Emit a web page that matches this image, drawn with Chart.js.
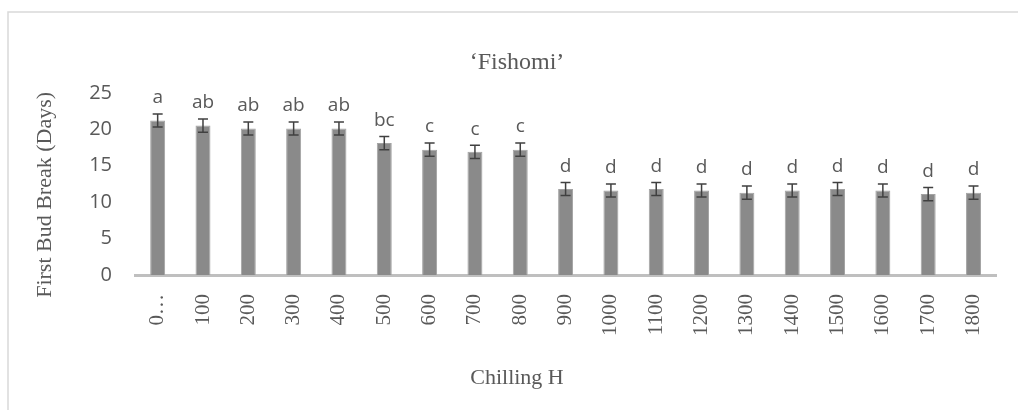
<!DOCTYPE html>
<html>
<head>
<meta charset="utf-8">
<script src="https://cdn.jsdelivr.net/npm/chart.js@4.4.0/dist/chart.umd.min.js"></script>
<style>
  html, body { margin: 0; padding: 0; background: #fff; }
  #wrap { width: 1018px; height: 410px; }
</style>
</head>
<body>
<div id="wrap"><canvas id="budChart" width="1018" height="410"></canvas></div>
<script>
const chillHours = ['0…', '100', '200', '300', '400', '500', '600', '700', '800', '900',
                    '1000', '1100', '1200', '1300', '1400', '1500', '1600', '1700', '1800'];
const budBreakDays = [21.2, 20.5, 20.1, 20.1, 20.1, 18.1, 17.2, 16.9, 17.2, 11.8,
                      11.6, 11.8, 11.6, 11.3, 11.6, 11.8, 11.6, 11.1, 11.3];
const errorDays = [0.9, 0.9, 0.9, 0.9, 0.9, 0.9, 0.9, 0.9, 0.9, 0.9,
                   0.9, 0.9, 0.9, 0.9, 0.9, 0.9, 0.9, 0.9, 0.9];
const groupLetters = ['a', 'ab', 'ab', 'ab', 'ab', 'bc', 'c', 'c', 'c', 'd',
                      'd', 'd', 'd', 'd', 'd', 'd', 'd', 'd', 'd'];
const yTicks = [0, 5, 10, 15, 20, 25];

const textGrey = '#595959';

// light frame round the chart (left + top edges show in the picture)
const framePlugin = {
  id: 'frame',
  beforeDraw(chart) {
    const ctx = chart.ctx;
    ctx.save();
    ctx.strokeStyle = '#d9d9d9';
    ctx.lineWidth = 1.5;
    ctx.beginPath();
    ctx.moveTo(8, 410);
    ctx.lineTo(8, 12);
    ctx.lineTo(1018, 12);
    ctx.stroke();
    ctx.restore();
  }
};

// error bars + significance letters
const errorBarPlugin = {
  id: 'errorBars',
  afterDatasetsDraw(chart) {
    const ctx = chart.ctx;
    const xs = chart.scales.x, ys = chart.scales.y;
    ctx.save();
    ctx.strokeStyle = '#404040';
    ctx.lineWidth = 1.5;
    ctx.fillStyle = textGrey;
    ctx.font = '19px "Open Sans"';
    ctx.textAlign = 'center';
    ctx.textBaseline = 'middle';
    budBreakDays.forEach(function (v, i) {
      const x = xs.getPixelForValue(i);
      const top = ys.getPixelForValue(v + errorDays[i]);
      const bot = ys.getPixelForValue(v - errorDays[i]);
      ctx.beginPath();
      ctx.moveTo(x, top); ctx.lineTo(x, bot);
      ctx.moveTo(x - 5, top); ctx.lineTo(x + 5, top);
      ctx.moveTo(x - 5, bot); ctx.lineTo(x + 5, bot);
      ctx.stroke();
      ctx.fillText(groupLetters[i], x, top - 16);
    });
    ctx.restore();
  }
};

new Chart(document.getElementById('budChart'), {
  type: 'bar',
  data: {
    labels: chillHours,
    datasets: [{
      data: budBreakDays,
      backgroundColor: '#8a8a8a',
      borderColor: '#a3a3a3',
      borderWidth: 1,
      categoryPercentage: 1,
      barPercentage: 0.33
    }]
  },
  options: {
    responsive: false,
    animation: false,
    layout: { padding: { left: 27, right: 11, top: 0, bottom: 0 } },
    plugins: {
      legend: { display: false },
      tooltip: { enabled: false },
      title: {
        display: true,
        text: '‘Fishomi’',
        color: textGrey,
        font: { family: '"Liberation Serif"', size: 24, weight: 'normal' },
        padding: { top: 48, bottom: 16 }
      },
      subtitle: {
        display: true,
        position: 'bottom',
        text: 'Chilling H',
        color: textGrey,
        font: { family: '"Liberation Serif"', size: 22, weight: 'normal' },
        padding: { top: 0, bottom: 19 }
      }
    },
    scales: {
      x: {
        grid: { display: false, drawTicks: false },
        border: { display: true, color: '#bfbfbf', width: 3 },
        ticks: {
          autoSkip: false,
          minRotation: 90,
          maxRotation: 90,
          padding: 19,
          color: textGrey,
          font: { family: '"Liberation Serif"', size: 21 }
        },
        afterFit(scale) { scale.height = 89.6; }
      },
      y: {
        min: 0,
        max: 25,
        grid: { display: false, drawTicks: false },
        border: { display: false },
        afterBuildTicks(scale) { scale.ticks = yTicks.map(v => ({ value: v })); },
        ticks: {
          padding: 23,
          color: textGrey,
          font: { family: '"Open Sans"', size: 20 }
        },
        title: {
          display: true,
          text: 'First Bud Break (Days)\u00A0\u00A0\u00A0\u00A0',
          color: textGrey,
          font: { family: '"Liberation Serif"', size: 22, weight: 'normal' },
          padding: { top: 5, bottom: 0 }
        },
        afterFit(scale) { scale.width = 108; }
      }
    }
  },
  plugins: [framePlugin, errorBarPlugin]
});
</script>
</body>
</html>
